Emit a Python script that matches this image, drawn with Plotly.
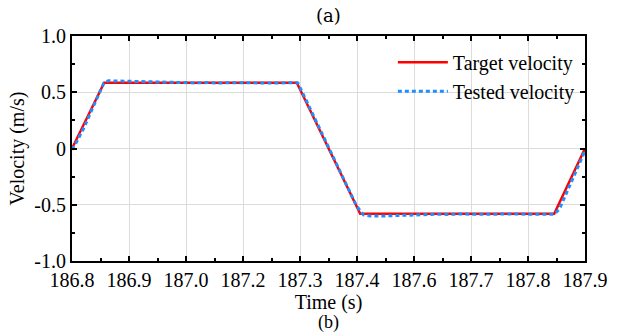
import numpy as np
import plotly.graph_objects as go

# Target velocity (piecewise linear profile)
target_t = [186.800, 186.869, 187.282, 187.418, 187.834, 187.900]
target_v = [0.0, 0.584, 0.584, -0.581, -0.581, 0.0]

# Tested velocity
tested_t = [186.800, 186.810, 186.825, 186.840, 186.855, 186.868, 186.878, 186.895,
            186.915, 186.940, 186.965, 186.990, 187.015, 187.040, 187.065, 187.090,
            187.115, 187.140, 187.165, 187.190, 187.215, 187.240, 187.265, 187.284,
            187.295, 187.310, 187.330, 187.350, 187.370, 187.390, 187.410, 187.425,
            187.440, 187.460, 187.485, 187.510, 187.535, 187.560, 187.585, 187.610,
            187.635, 187.660, 187.685, 187.710, 187.735, 187.760, 187.785, 187.810,
            187.834, 187.845, 187.860, 187.875, 187.890, 187.900]
tested_v = [-0.01, 0.06, 0.18, 0.32, 0.46, 0.58, 0.602, 0.600,
            0.596, 0.592, 0.590, 0.588, 0.585, 0.587, 0.583, 0.586,
            0.582, 0.585, 0.583, 0.580, 0.584, 0.582, 0.585, 0.583,
            0.49, 0.36, 0.18, 0.01, -0.17, -0.34, -0.51, -0.59,
            -0.600, -0.601, -0.597, -0.592, -0.590, -0.587, -0.584, -0.586,
            -0.582, -0.585, -0.583, -0.580, -0.584, -0.582, -0.585, -0.583,
            -0.584, -0.54, -0.40, -0.26, -0.11, -0.02]

x_ticktext = ["186.8", "186.9", "187.0", "187.2", "187.3", "187.4",
              "187.6", "187.7", "187.8", "187.9"]
y_tickvals = [-1.0, -0.5, 0, 0.5, 1.0]
y_ticktext = ["-1.0", "-0.5", "0", "0.5", "1.0"]

x_range = [186.8, 187.9]
x_tickvals = list(np.linspace(x_range[0], x_range[1], len(x_ticktext)))

font_family = "Liberation Serif"

fig = go.Figure()
fig.add_trace(go.Scatter(x=target_t, y=target_v, mode="lines", name="Target velocity",
                         line=dict(color="#FF0000", width=2.5)))
fig.add_trace(go.Scatter(x=tested_t, y=tested_v, mode="lines", name="Tested velocity",
                         line=dict(color="#1E8FFF", width=3, dash="4px,3px")))

axis_common = dict(showline=True, linecolor="black", linewidth=2, mirror="ticks",
                   ticks="inside", ticklen=5, tickwidth=1.5, tickcolor="black",
                   showgrid=True, gridcolor="#DCDCDC", gridwidth=1, zeroline=False,
                   tickfont=dict(family=font_family, size=20, color="black"))

fig.update_xaxes(range=x_range, tickvals=x_tickvals, ticktext=x_ticktext,
                 minor=dict(ticks="inside", ticklen=3, tickcolor="black",
                            dtick=(x_range[1] - x_range[0]) / 18, tick0=x_range[0],
                            showgrid=False),
                 title=dict(text="Time (s)", font=dict(family=font_family, size=20, color="black"),
                            standoff=0),
                 **axis_common)
fig.update_yaxes(range=[-1.0, 1.0], tickvals=y_tickvals, ticktext=y_ticktext,
                 minor=dict(ticks="inside", ticklen=3, tickcolor="black", dtick=0.25,
                            tick0=0, showgrid=False),
                 title=dict(text="Velocity (m/s)", font=dict(family=font_family, size=20, color="black"),
                            standoff=4),
                 **axis_common)

fig.update_layout(
    width=619, height=335,
    margin=dict(l=72, r=34, t=36, b=74),
    paper_bgcolor="white", plot_bgcolor="white",
    font=dict(family=font_family, size=20, color="black"),
    showlegend=True,
    legend=dict(x=0.99, y=0.97, xanchor="right", yanchor="top",
                bgcolor="rgba(0,0,0,0)", borderwidth=0,
                font=dict(family=font_family, size=20, color="black"),
                tracegroupgap=0, itemwidth=50),
    annotations=[
        dict(text="(a)", x=0.5, y=1.0, xref="paper", yref="paper", xanchor="center",
             yanchor="bottom", yshift=8, showarrow=False,
             font=dict(family="DejaVu Serif", size=18, color="black")),
        dict(text="(b)", x=0.5, y=0.0, xref="paper", yref="paper", xanchor="center",
             yanchor="top", yshift=-49, showarrow=False,
             font=dict(family=font_family, size=18, color="black")),
    ],
)

fig.write_html("out.html")
